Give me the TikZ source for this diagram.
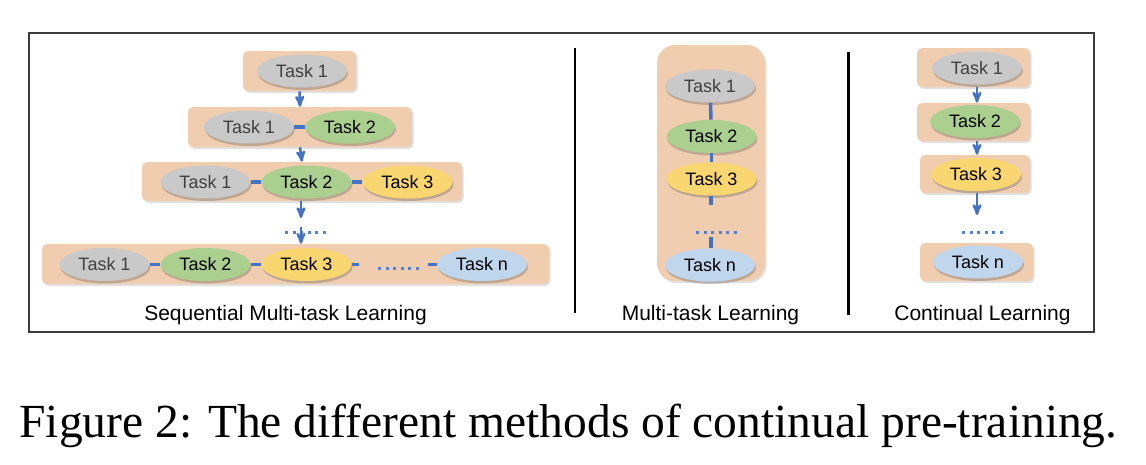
\documentclass[tikz,border=0pt]{standalone}
\usepackage{fontspec}
\usepackage{xcolor}
\usetikzlibrary{shapes.geometric, arrows}
\usetikzlibrary{positioning,shadows}
\newfontfamily\tasksans{Liberation Sans}
\newfontfamily\capserif{Liberation Serif}
\definecolor{boxpeach}{RGB}{241,205,176}
\definecolor{taskgray}{RGB}{201,201,201}
\definecolor{taskgreen}{RGB}{170,207,143}
\definecolor{taskyellow}{RGB}{250,214,112}
\definecolor{taskblue}{RGB}{191,214,236}
\definecolor{linkblue}{RGB}{68,114,196}
\definecolor{dotblue}{RGB}{80,130,222}
\definecolor{framegray}{RGB}{60,60,60}

\begin{document}
\begin{tikzpicture}[x=1pt,y=-1pt,>=stealth',semithick,node distance=101pt]
		\tikzstyle{taskbox}=[ellipse,minimum width=90pt,minimum height=33pt,inner sep=0pt,
			font=\tasksans\fontsize{18}{21}\selectfont,
			drop shadow={shadow xshift=1pt,shadow yshift=-2.5pt,opacity=.3,fill=black!70}]
		\tikzstyle{taskone}=[taskbox,fill=taskgray,text=black!75]
		\tikzstyle{tasktwo}=[taskbox,fill=taskgreen,text=black]
		\tikzstyle{taskthree}=[taskbox,fill=taskyellow,text=black]
		\tikzstyle{taskn}=[taskbox,fill=taskblue,text=black]
		\tikzstyle{rowbox}=[rectangle,rounded corners=5pt,fill=boxpeach,inner sep=0pt,
			drop shadow={shadow xshift=1.5pt,shadow yshift=-2pt,opacity=.2,fill=black!60}]
		\tikzstyle{linkline}=[linkblue,line width=3.5pt]
		\tikzstyle{flowarrow}=[->,linkblue,line width=2.5pt]
		\tikzstyle{dotline}=[dotblue,line width=3pt,dash pattern=on 3pt off 4.5pt]
		\tikzstyle{panellabel}=[anchor=base,inner sep=0pt,font=\tasksans\fontsize{21}{24}\selectfont]
		\useasboundingbox (0,0) rectangle (1146,464);
		% frame and separators
		\draw[framegray,line width=1.5pt] (29,33) rectangle (1094,332);
		\draw[black,line width=2.5pt] (575,48) -- (575,313);
		\draw[black,line width=2.5pt] (848.5,52) -- (848.5,315);
		% sequential multi-task learning
		\node[rowbox,minimum width=113pt,minimum height=40pt] (s1box) at (299.5,71)  {};
		\node[rowbox,minimum width=224pt,minimum height=40pt] (s2box) at (300,127)   {};
		\node[rowbox,minimum width=320pt,minimum height=39pt] (s3box) at (302,181.5) {};
		\node[rowbox,minimum width=507pt,minimum height=40pt] (s4box) at (295.5,264) {};
		\node[taskone]   (s1a) at (302,71)      {Task 1};
		\node[taskone]   (s2a) at (249,127)     {Task 1};
		\node[tasktwo]   (s2b) [right of=s2a]   {Task 2};
		\node[taskone]   (s3a) at (205.5,182)   {Task 1};
		\node[tasktwo]   (s3b) [right of=s3a]   {Task 2};
		\node[taskthree] (s3c) [right of=s3b]   {Task 3};
		\node[taskone]   (s4a) at (104.5,264.5) {Task 1};
		\node[tasktwo]   (s4b) [right of=s4a]   {Task 2};
		\node[taskthree] (s4c) [right of=s4b]   {Task 3};
		\node[taskn]     (s4n) at (482,264.5)   {Task n};
		\coordinate (sgap1) at (301,218);
		\coordinate (sgap2) at (301,227);
		\coordinate (s4stubl) at (359,264.5);
		\coordinate (s4stubr) at (428,264.5);
		\path[linkline]
		(s2a) edge (s2b)
		(s3a) edge (s3b)
		(s3b) edge (s3c)
		(s4a) edge (s4b)
		(s4b) edge (s4c);
		\draw[linkline] (s4c) -- (s4stubl);
		\draw[linkline] (s4stubr) -- (s4n);
		\draw[dotline] (378,268) -- (422,268);
		\draw[dotline] (285,232) -- (327,232);
		\draw[flowarrow] (s1box.south) -- (s2box.north);
		\draw[flowarrow] (s2box.south) -- (s3box.north);
		\draw[flowarrow] (s3box.south -| sgap1) -- (sgap1);
		\draw[flowarrow] (sgap2) -- (sgap2 |- s4box.north);
		\node[panellabel] (slabel) at (285.5,320) {Sequential Multi-task Learning};
		% multi-task learning
		\node[rowbox,rounded corners=18pt,minimum width=108pt,minimum height=236pt] (mbox) at (711,163) {};
		\node[taskone]   (m1) at (710,86)    {Task 1};
		\node[tasktwo]   (m2) at (711.5,136.5) {Task 2};
		\node[taskthree] (m3) at (711.5,179) {Task 3};
		\node[taskn]     (mn) at (710,265)   {Task n};
		\coordinate (mstub1) at (711,205);
		\coordinate (mstub2) at (711,237);
		\path[linkline]
		(m1) edge (m2)
		(m2) edge (m3);
		\draw[linkline] (m3.south -| mstub1) -- (mstub1);
		\draw[linkline] (mstub2) -- (mstub2 |- mn.north);
		\draw[dotline] (696,232) -- (739,232);
		\node[panellabel] (mlabel) at (710.5,320) {Multi-task Learning};
		% continual learning
		\node[rowbox,minimum width=113pt,minimum height=39pt] (c1box) at (973.5,67.5) {};
		\node[rowbox,minimum width=113pt,minimum height=38pt] (c2box) at (973.5,122)  {};
		\node[rowbox,minimum width=110pt,minimum height=38pt] (c3box) at (975,174)    {};
		\node[rowbox,minimum width=113pt,minimum height=38pt] (c4box) at (976.5,262)  {};
		\node[taskone]   (c1) at (977,68)    {Task 1};
		\node[tasktwo]   (c2) at (975,121.5) {Task 2};
		\node[taskthree] (c3) at (976,174.5) {Task 3};
		\node[taskn]     (cn) at (978,262)   {Task n};
		\coordinate (cstub) at (977,215);
		\draw[flowarrow] (c1box.south -| c1) -- (c2box.north -| c1);
		\draw[flowarrow] (c2box.south -| cstub) -- (c3box.north -| cstub);
		\draw[flowarrow] (c3box.south -| cstub) -- (cstub);
		\draw[dotline] (962,232) -- (1003,232);
		\node[panellabel] (clabel) at (982.5,320) {Continual Learning};
		% caption
		\node[anchor=base,inner sep=0pt,font=\capserif\fontsize{47.5}{52}\selectfont] (caption) at (568.5,437)
			{Figure 2: The different methods of continual pre-training.};
	\end{tikzpicture}
\end{document}
